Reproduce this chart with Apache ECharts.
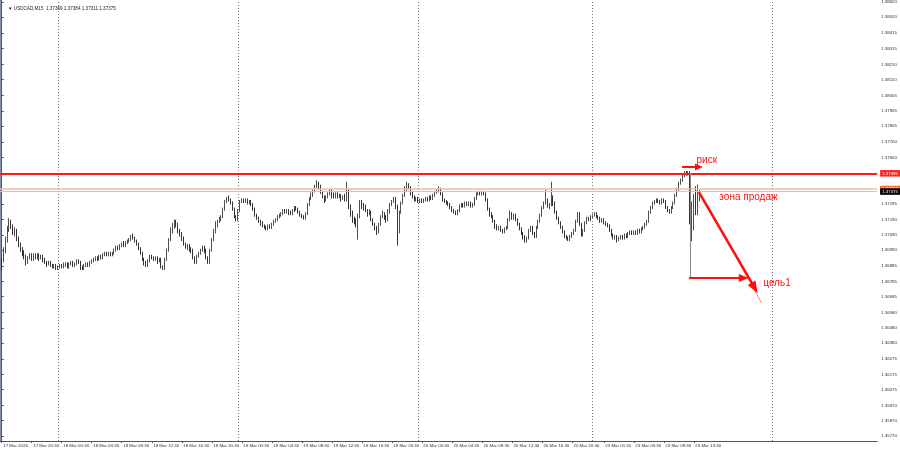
<!DOCTYPE html>
<html><head><meta charset="utf-8">
<script src="https://cdn.jsdelivr.net/npm/echarts@6/dist/echarts.min.js"></script>
<style>html,body{margin:0;padding:0;background:#fff}#c{width:900px;height:454px}</style>
</head><body><div id="c"></div>
<script>
const symbolName = 'USDCAD,M15';
const lastQuote = ['1.37369', '1.37384', '1.37311', '1.37375'];
// one row per M15 bar: [open, close, low, high]
const candles = [
[1.3688,1.3692,1.3686,1.3694],[1.3692,1.3699,1.3691,1.3701],[1.3699,1.3706,1.3697,1.3708],[1.3706,1.3713,1.3704,1.3715],[1.3713,1.3718,1.3711,1.3720],[1.3718,1.3715,1.3713,1.3719],[1.3715,1.3711,1.3709,1.3716],[1.3711,1.3712,1.3708,1.3714],[1.3712,1.3706,1.3705,1.3713],[1.3706,1.3703,1.3701,1.3708],
[1.3703,1.3700,1.3698,1.3704],[1.3700,1.3697,1.3695,1.3701],[1.3697,1.3695,1.3693,1.3699],[1.3695,1.3691,1.3689,1.3696],[1.3691,1.3694,1.3690,1.3695],[1.3694,1.3696,1.3693,1.3697],[1.3696,1.3693,1.3692,1.3697],[1.3693,1.3695,1.3692,1.3697],[1.3695,1.3694,1.3693,1.3697],[1.3694,1.3696,1.3693,1.3697],
[1.3696,1.3694,1.3692,1.3697],[1.3694,1.3695,1.3693,1.3696],[1.3695,1.3693,1.3691,1.3696],[1.3693,1.3691,1.3690,1.3694],[1.3691,1.3690,1.3688,1.3692],[1.3690,1.3691,1.3689,1.3692],[1.3691,1.3689,1.3688,1.3692],[1.3689,1.3688,1.3687,1.3690],[1.3688,1.3689,1.3687,1.3690],[1.3689,1.3687,1.3686,1.3690],
[1.3687,1.3688,1.3686,1.3689],[1.3688,1.3689,1.3687,1.3690],[1.3689,1.3688,1.3687,1.3690],[1.3688,1.3689,1.3687,1.3691],[1.3689,1.3690,1.3688,1.3691],[1.3690,1.3688,1.3687,1.3691],[1.3688,1.3690,1.3687,1.3691],[1.3690,1.3691,1.3689,1.3692],[1.3691,1.3689,1.3688,1.3692],[1.3689,1.3690,1.3688,1.3691],
[1.3690,1.3692,1.3689,1.3693],[1.3692,1.3691,1.3690,1.3693],[1.3691,1.3688,1.3686,1.3692],[1.3688,1.3687,1.3686,1.3689],[1.3687,1.3689,1.3686,1.3690],[1.3689,1.3690,1.3688,1.3691],[1.3690,1.3689,1.3688,1.3691],[1.3689,1.3691,1.3688,1.3692],[1.3691,1.3692,1.3690,1.3693],[1.3692,1.3693,1.3691,1.3694],
[1.3693,1.3694,1.3692,1.3695],[1.3694,1.3693,1.3692,1.3695],[1.3693,1.3695,1.3692,1.3696],[1.3695,1.3694,1.3693,1.3696],[1.3694,1.3696,1.3693,1.3697],[1.3696,1.3697,1.3695,1.3698],[1.3697,1.3696,1.3695,1.3698],[1.3696,1.3697,1.3695,1.3698],[1.3697,1.3696,1.3695,1.3698],[1.3696,1.3697,1.3695,1.3698],
[1.3697,1.3699,1.3696,1.3700],[1.3699,1.3701,1.3698,1.3702],[1.3701,1.3700,1.3699,1.3702],[1.3700,1.3702,1.3699,1.3703],[1.3702,1.3703,1.3701,1.3704],[1.3703,1.3702,1.3701,1.3705],[1.3702,1.3704,1.3701,1.3705],[1.3704,1.3705,1.3703,1.3706],[1.3705,1.3706,1.3704,1.3707],[1.3706,1.3708,1.3705,1.3709],
[1.3708,1.3707,1.3706,1.3710],[1.3707,1.3705,1.3704,1.3708],[1.3705,1.3703,1.3702,1.3706],[1.3703,1.3700,1.3699,1.3704],[1.3700,1.3697,1.3696,1.3701],[1.3697,1.3693,1.3692,1.3698],[1.3693,1.3690,1.3689,1.3694],[1.3690,1.3689,1.3688,1.3692],[1.3689,1.3692,1.3688,1.3693],[1.3692,1.3695,1.3691,1.3696],
[1.3695,1.3694,1.3693,1.3696],[1.3694,1.3693,1.3692,1.3695],[1.3693,1.3694,1.3692,1.3695],[1.3694,1.3692,1.3690,1.3695],[1.3692,1.3693,1.3691,1.3694],[1.3693,1.3688,1.3687,1.3694],[1.3688,1.3687,1.3686,1.3689],[1.3687,1.3693,1.3686,1.3694],[1.3693,1.3699,1.3692,1.3700],[1.3699,1.3706,1.3698,1.3707],
[1.3706,1.3712,1.3705,1.3714],[1.3712,1.3715,1.3710,1.3717],[1.3715,1.3717,1.3713,1.3719],[1.3717,1.3716,1.3714,1.3719],[1.3716,1.3712,1.3710,1.3717],[1.3712,1.3710,1.3708,1.3713],[1.3710,1.3706,1.3705,1.3711],[1.3706,1.3703,1.3702,1.3708],[1.3703,1.3701,1.3700,1.3704],[1.3701,1.3702,1.3699,1.3703],
[1.3702,1.3700,1.3698,1.3703],[1.3700,1.3699,1.3697,1.3701],[1.3699,1.3694,1.3693,1.3700],[1.3694,1.3691,1.3690,1.3695],[1.3691,1.3695,1.3690,1.3696],[1.3695,1.3697,1.3694,1.3698],[1.3697,1.3699,1.3696,1.3700],[1.3699,1.3701,1.3698,1.3702],[1.3701,1.3699,1.3697,1.3702],[1.3699,1.3694,1.3693,1.3700],
[1.3694,1.3691,1.3690,1.3695],[1.3691,1.3699,1.3690,1.3700],[1.3699,1.3706,1.3698,1.3707],[1.3706,1.3711,1.3705,1.3713],[1.3711,1.3716,1.3710,1.3718],[1.3716,1.3718,1.3714,1.3719],[1.3718,1.3719,1.3717,1.3721],[1.3719,1.3721,1.3718,1.3722],[1.3721,1.3726,1.3720,1.3727],[1.3726,1.3731,1.3725,1.3732],
[1.3731,1.3733,1.3730,1.3734],[1.3733,1.3732,1.3731,1.3735],[1.3732,1.3730,1.3729,1.3733],[1.3730,1.3726,1.3725,1.3731],[1.3726,1.3721,1.3720,1.3727],[1.3721,1.3719,1.3718,1.3722],[1.3719,1.3725,1.3718,1.3726],[1.3725,1.3731,1.3724,1.3732],[1.3731,1.3732,1.3730,1.3733],[1.3732,1.3731,1.3730,1.3733],
[1.3731,1.3732,1.3730,1.3733],[1.3732,1.3730,1.3729,1.3733],[1.3730,1.3731,1.3729,1.3732],[1.3731,1.3729,1.3728,1.3732],[1.3729,1.3726,1.3725,1.3730],[1.3726,1.3722,1.3721,1.3727],[1.3722,1.3720,1.3719,1.3723],[1.3720,1.3718,1.3717,1.3721],[1.3718,1.3717,1.3715,1.3719],[1.3717,1.3715,1.3714,1.3718],
[1.3715,1.3714,1.3713,1.3716],[1.3714,1.3713,1.3712,1.3715],[1.3713,1.3715,1.3712,1.3716],[1.3715,1.3714,1.3713,1.3716],[1.3714,1.3716,1.3713,1.3717],[1.3716,1.3718,1.3715,1.3719],[1.3718,1.3719,1.3717,1.3720],[1.3719,1.3721,1.3718,1.3722],[1.3721,1.3722,1.3720,1.3723],[1.3722,1.3723,1.3721,1.3724],
[1.3723,1.3725,1.3722,1.3726],[1.3725,1.3724,1.3723,1.3726],[1.3724,1.3725,1.3723,1.3726],[1.3725,1.3724,1.3722,1.3726],[1.3724,1.3723,1.3722,1.3725],[1.3723,1.3725,1.3722,1.3726],[1.3725,1.3727,1.3724,1.3728],[1.3727,1.3726,1.3725,1.3728],[1.3726,1.3724,1.3723,1.3727],[1.3724,1.3722,1.3721,1.3725],
[1.3722,1.3721,1.3720,1.3723],[1.3721,1.3720,1.3719,1.3722],[1.3720,1.3723,1.3719,1.3724],[1.3723,1.3729,1.3722,1.3730],[1.3729,1.3733,1.3728,1.3734],[1.3733,1.3735,1.3732,1.3737],[1.3735,1.3738,1.3734,1.3739],[1.3738,1.3741,1.3737,1.3742],[1.3741,1.3743,1.3740,1.3745],[1.3743,1.3741,1.3739,1.3744],
[1.3741,1.3737,1.3736,1.3742],[1.3737,1.3734,1.3733,1.3738],[1.3734,1.3732,1.3730,1.3735],[1.3732,1.3734,1.3731,1.3735],[1.3734,1.3736,1.3733,1.3737],[1.3736,1.3738,1.3735,1.3739],[1.3738,1.3735,1.3733,1.3739],[1.3735,1.3734,1.3733,1.3737],[1.3734,1.3736,1.3733,1.3737],[1.3736,1.3734,1.3733,1.3737],
[1.3734,1.3735,1.3733,1.3736],[1.3735,1.3733,1.3731,1.3736],[1.3733,1.3734,1.3732,1.3735],[1.3734,1.3732,1.3731,1.3736],[1.3732,1.3738,1.3731,1.3744],[1.3738,1.3728,1.3726,1.3739],[1.3728,1.3723,1.3721,1.3729],[1.3723,1.3719,1.3717,1.3725],[1.3719,1.3718,1.3716,1.3721],[1.3718,1.3716,1.3714,1.3720],
[1.3716,1.3722,1.3706,1.3723],[1.3722,1.3731,1.3720,1.3732],[1.3731,1.3728,1.3726,1.3732],[1.3728,1.3727,1.3725,1.3730],[1.3727,1.3725,1.3724,1.3729],[1.3725,1.3723,1.3721,1.3726],[1.3723,1.3724,1.3722,1.3726],[1.3724,1.3719,1.3718,1.3725],[1.3719,1.3716,1.3715,1.3720],[1.3716,1.3714,1.3712,1.3717],
[1.3714,1.3711,1.3709,1.3715],[1.3711,1.3716,1.3710,1.3717],[1.3716,1.3721,1.3715,1.3722],[1.3721,1.3723,1.3720,1.3725],[1.3723,1.3720,1.3719,1.3724],[1.3720,1.3719,1.3717,1.3722],[1.3719,1.3724,1.3718,1.3726],[1.3724,1.3729,1.3723,1.3730],[1.3729,1.3731,1.3728,1.3732],[1.3731,1.3733,1.3730,1.3734],
[1.3733,1.3728,1.3726,1.3734],[1.3728,1.3711,1.3702,1.3729],[1.3711,1.3724,1.3710,1.3725],[1.3724,1.3730,1.3723,1.3731],[1.3730,1.3735,1.3729,1.3736],[1.3735,1.3740,1.3734,1.3741],[1.3740,1.3742,1.3738,1.3744],[1.3742,1.3740,1.3739,1.3743],[1.3740,1.3737,1.3735,1.3741],[1.3737,1.3734,1.3733,1.3738],
[1.3734,1.3732,1.3731,1.3735],[1.3732,1.3733,1.3731,1.3734],[1.3733,1.3731,1.3730,1.3734],[1.3731,1.3732,1.3730,1.3733],[1.3732,1.3731,1.3730,1.3733],[1.3731,1.3732,1.3730,1.3733],[1.3732,1.3733,1.3731,1.3734],[1.3733,1.3732,1.3731,1.3734],[1.3732,1.3734,1.3731,1.3735],[1.3734,1.3733,1.3732,1.3735],
[1.3733,1.3735,1.3732,1.3736],[1.3735,1.3737,1.3734,1.3738],[1.3737,1.3738,1.3736,1.3739],[1.3738,1.3739,1.3737,1.3741],[1.3739,1.3736,1.3735,1.3740],[1.3736,1.3732,1.3731,1.3737],[1.3732,1.3731,1.3730,1.3733],[1.3731,1.3730,1.3729,1.3732],[1.3730,1.3729,1.3728,1.3731],[1.3729,1.3727,1.3726,1.3730],
[1.3727,1.3725,1.3724,1.3728],[1.3725,1.3724,1.3723,1.3726],[1.3724,1.3723,1.3722,1.3725],[1.3723,1.3725,1.3722,1.3726],[1.3725,1.3728,1.3724,1.3729],[1.3728,1.3729,1.3727,1.3730],[1.3729,1.3728,1.3727,1.3730],[1.3728,1.3730,1.3727,1.3731],[1.3730,1.3729,1.3728,1.3731],[1.3729,1.3730,1.3728,1.3731],
[1.3730,1.3728,1.3727,1.3731],[1.3728,1.3729,1.3727,1.3730],[1.3729,1.3733,1.3728,1.3734],[1.3733,1.3736,1.3732,1.3737],[1.3736,1.3737,1.3735,1.3738],[1.3737,1.3736,1.3735,1.3738],[1.3736,1.3737,1.3735,1.3738],[1.3737,1.3736,1.3735,1.3738],[1.3736,1.3732,1.3731,1.3737],[1.3732,1.3726,1.3725,1.3733],
[1.3726,1.3723,1.3721,1.3727],[1.3723,1.3721,1.3720,1.3724],[1.3721,1.3718,1.3717,1.3722],[1.3718,1.3715,1.3713,1.3719],[1.3715,1.3713,1.3712,1.3716],[1.3713,1.3714,1.3712,1.3715],[1.3714,1.3712,1.3711,1.3715],[1.3712,1.3711,1.3710,1.3713],[1.3711,1.3713,1.3710,1.3714],[1.3713,1.3714,1.3712,1.3715],
[1.3714,1.3719,1.3713,1.3720],[1.3719,1.3723,1.3718,1.3725],[1.3723,1.3720,1.3719,1.3724],[1.3720,1.3722,1.3719,1.3723],[1.3722,1.3719,1.3718,1.3723],[1.3719,1.3716,1.3715,1.3720],[1.3716,1.3713,1.3712,1.3717],[1.3713,1.3710,1.3709,1.3714],[1.3710,1.3707,1.3706,1.3711],[1.3707,1.3705,1.3704,1.3709],
[1.3705,1.3707,1.3704,1.3708],[1.3707,1.3712,1.3706,1.3713],[1.3712,1.3714,1.3711,1.3715],[1.3714,1.3710,1.3709,1.3715],[1.3710,1.3708,1.3707,1.3711],[1.3708,1.3714,1.3707,1.3715],[1.3714,1.3718,1.3713,1.3719],[1.3718,1.3722,1.3717,1.3723],[1.3722,1.3727,1.3721,1.3728],[1.3727,1.3730,1.3726,1.3731],
[1.3730,1.3732,1.3729,1.3739],[1.3732,1.3728,1.3727,1.3733],[1.3728,1.3729,1.3726,1.3730],[1.3729,1.3733,1.3728,1.3744],[1.3733,1.3730,1.3728,1.3735],[1.3730,1.3724,1.3723,1.3731],[1.3724,1.3720,1.3719,1.3725],[1.3720,1.3717,1.3716,1.3721],[1.3717,1.3714,1.3713,1.3718],[1.3714,1.3711,1.3710,1.3715],
[1.3711,1.3708,1.3707,1.3712],[1.3708,1.3707,1.3706,1.3709],[1.3707,1.3706,1.3705,1.3708],[1.3706,1.3708,1.3705,1.3709],[1.3708,1.3710,1.3707,1.3711],[1.3710,1.3712,1.3709,1.3713],[1.3712,1.3718,1.3711,1.3719],[1.3718,1.3723,1.3717,1.3724],[1.3723,1.3716,1.3715,1.3724],[1.3716,1.3709,1.3708,1.3717],
[1.3709,1.3712,1.3708,1.3713],[1.3712,1.3717,1.3711,1.3718],[1.3717,1.3720,1.3716,1.3721],[1.3720,1.3719,1.3718,1.3721],[1.3719,1.3721,1.3718,1.3722],[1.3721,1.3722,1.3720,1.3723],[1.3722,1.3723,1.3721,1.3724],[1.3723,1.3721,1.3720,1.3724],[1.3721,1.3720,1.3719,1.3722],[1.3720,1.3718,1.3717,1.3721],
[1.3718,1.3719,1.3717,1.3720],[1.3719,1.3717,1.3716,1.3720],[1.3717,1.3716,1.3715,1.3718],[1.3716,1.3715,1.3714,1.3717],[1.3715,1.3712,1.3711,1.3716],[1.3712,1.3709,1.3708,1.3713],[1.3709,1.3707,1.3706,1.3710],[1.3707,1.3708,1.3706,1.3709],[1.3708,1.3706,1.3704,1.3709],[1.3706,1.3707,1.3705,1.3708],
[1.3707,1.3708,1.3706,1.3709],[1.3708,1.3707,1.3706,1.3709],[1.3707,1.3709,1.3706,1.3710],[1.3709,1.3708,1.3707,1.3710],[1.3708,1.3710,1.3707,1.3711],[1.3710,1.3711,1.3709,1.3712],[1.3711,1.3710,1.3709,1.3712],[1.3710,1.3711,1.3709,1.3712],[1.3711,1.3710,1.3709,1.3712],[1.3710,1.3712,1.3709,1.3713],
[1.3712,1.3711,1.3710,1.3713],[1.3711,1.3713,1.3710,1.3714],[1.3713,1.3714,1.3712,1.3715],[1.3714,1.3716,1.3713,1.3717],[1.3716,1.3718,1.3715,1.3719],[1.3718,1.3724,1.3717,1.3725],[1.3724,1.3727,1.3723,1.3728],[1.3727,1.3730,1.3726,1.3731],[1.3730,1.3731,1.3729,1.3732],[1.3731,1.3732,1.3730,1.3733],
[1.3732,1.3731,1.3730,1.3733],[1.3731,1.3730,1.3729,1.3732],[1.3730,1.3732,1.3729,1.3733],[1.3732,1.3731,1.3730,1.3733],[1.3731,1.3727,1.3726,1.3732],[1.3727,1.3725,1.3724,1.3728],[1.3725,1.3724,1.3723,1.3726],[1.3724,1.3727,1.3723,1.3728],[1.3727,1.3730,1.3726,1.3731],[1.3730,1.3735,1.3729,1.3736],
[1.3735,1.3739,1.3734,1.3740],[1.3739,1.3743,1.3738,1.3744],[1.3743,1.3745,1.3742,1.3746],[1.3745,1.3748,1.3744,1.3749],[1.3748,1.3750,1.3747,1.3751],[1.3750,1.3749,1.3748,1.3751],[1.3749,1.3750,1.3748,1.3751],[1.3750,1.3719,1.3716,1.3751],[1.3719,1.3727,1.3705,1.3731],[1.3727,1.3733,1.3712,1.3736],
[1.3733,1.3725,1.3722,1.3741],[1.3725,1.37369,1.3722,1.3742],[1.37369,1.37375,1.37311,1.37384]
];
// time-axis ticks: bar index and text
const xTickIdx = [0,16,32,48,64,80,96,112,128,144,160,176,192,208,224,240,256,272,288,304,321,337,353,369];
const xTickText = ['17 Mar 2026','17 Mar 20:30','18 Mar 00:30','18 Mar 04:30','18 Mar 08:30','18 Mar 12:30','18 Mar 16:30','18 Mar 20:30','19 Mar 00:30','19 Mar 04:30','19 Mar 08:30','19 Mar 12:30','19 Mar 16:30','19 Mar 20:30','20 Mar 00:30','20 Mar 04:30','20 Mar 08:30','20 Mar 12:30','20 Mar 16:30','20 Mar 20:30','23 Mar 01:30','23 Mar 05:30','23 Mar 09:30','23 Mar 13:30'];
// price-axis ticks
const yTicks = [1.35770,1.35870,1.35970,1.36075,1.36175,1.36275,1.36380,1.36480,1.36580,1.36685,1.36785,1.36885,1.36990,1.37090,1.37190,1.37295,1.37600,1.37700,1.37805,1.37905,1.38005,1.38110,1.38210,1.38315,1.38415,1.38520,1.38620];
// day separators (bar index of 00:00)
const daySeparators = [30,126,222,315,411];
// horizontal levels: risk line, sell-zone line, bid
const levelPrices = [1.37495, 1.37392, 1.37375];
// annotation drawings: [fromIndex, fromPrice, toIndex, toPrice]
const arrowRisk = [362.7, 1.37536, 371.7, 1.37536];
const arrowDown = [371.7, 1.37372, 401.4, 1.36742];
const arrowDownTail = [400.2, 1.36752, 405.1, 1.36643];
const arrowTarget = [366.4, 1.36807, 395.6, 1.36807];
const measureLine = [366.9, 1.37497, 366.9, 1.36807];
// annotation texts: [text, barIndex, price]
const notes = [['риск', 368.0, 1.37582], ['зона продаж', 380.2, 1.37339], ['цель1', 403.6, 1.36775]];

const FONT = 'Liberation Sans';
function seg(a, color, width, arrowSize) {
  return [
    {coord: [a[0], a[1]], symbol: 'none', lineStyle: {color: color, width: width, type: 'solid'}},
    {coord: [a[2], a[3]], symbol: arrowSize ? 'triangle' : 'none', symbolSize: arrowSize || 0, itemStyle: {color: color}}
  ];
}
// helper series that only carries a markLine in one colour
function lineHolder(color, width, type, items, label) {
  return {
    type: 'line', data: [[0, levelPrices[2]]], symbol: 'none', silent: true,
    color: color, lineStyle: {opacity: 0}, z: 3,
    markLine: {
      silent: true, symbol: ['none', 'none'], animation: false, precision: 6,
      lineStyle: {color: color, width: width, type: type},
      label: label || {show: false},
      data: items
    }
  };
}
function levelLabel(v, bg) {
  return {show: true, position: 'end', distance: 3, formatter: v.toFixed(5), backgroundColor: bg, color: '#fff',
    fontSize: 4.4, fontFamily: FONT, padding: [1, 3, 0.5, 2], lineHeight: 5};
}

const chart = echarts.init(document.getElementById('c'), null, {renderer: 'canvas'});
chart.setOption({
  animation: false,
  backgroundColor: '#ffffff',
  title: {text: '▼ ' + symbolName + '  ' + lastQuote.join(' '), left: 3, top: 1,
    textStyle: {fontSize: 4.6, fontWeight: 'normal', color: '#222', fontFamily: FONT}},
  graphic: [{type: 'rect', left: 0, top: 0, shape: {width: 1, height: 441}, style: {fill: '#8492b0'}, silent: true}],
  grid: {left: 0, right: 19, top: 0, bottom: 13},
  xAxis: {
    type: 'value', min: -0.9, max: 466.7, splitLine: {show: false},
    axisLine: {show: true, lineStyle: {color: '#555', width: 1}},
    axisTick: {show: true, customValues: xTickIdx, length: 2, lineStyle: {color: '#555'}},
    axisLabel: {customValues: xTickIdx, formatter: v => { const k = xTickIdx.indexOf(Math.round(v)); return k >= 0 ? xTickText[k] : ''; },
      align: 'left', fontSize: 4.4, color: '#333', margin: 3, padding: [0, 0, 0, 1.5], fontFamily: FONT}
  },
  yAxis: {
    type: 'value', position: 'right', min: 1.35737, max: 1.38633, splitLine: {show: false},
    axisLine: {show: true, lineStyle: {color: '#555', width: 1}},
    axisTick: {show: true, customValues: yTicks, length: 2, lineStyle: {color: '#555'}},
    axisLabel: {customValues: yTicks, formatter: v => v.toFixed(5), fontSize: 4.4, color: '#333', margin: 4, fontFamily: FONT}
  },
  series: [
    lineHolder('#777777', 1, [1, 2], daySeparators.map(d => ({xAxis: d}))),
    lineHolder('#ffb49c', 1.6, 'solid', [{yAxis: levelPrices[1]}], levelLabel(levelPrices[1], '#ff6a33')),
    lineHolder('#c8c8c8', 1, 'solid', [{yAxis: levelPrices[2]}], levelLabel(levelPrices[2], '#000000')),
    lineHolder('#ff1a1a', 2, 'solid', [{yAxis: levelPrices[0]}], levelLabel(levelPrices[0], '#ff2020')),
    {
      type: 'candlestick', z: 4,
      data: candles.map((c, i) => [i, c[0], c[1], c[2], c[3]]),
      barWidth: 1.3,
      itemStyle: {color: '#8c8c8c', color0: '#000000', borderColor: '#222', borderColor0: '#000', borderWidth: 0.8}
    },
    lineHolder('#8a8a8a', 1, 'solid', [seg(measureLine, '#8a8a8a', 1)]),
    lineHolder('#ff8a50', 1, 'solid', [seg(arrowDownTail, '#ff8a50', 1)]),
    Object.assign(lineHolder('#ff1010', 2, 'solid', [
      seg(arrowRisk, '#ff1010', 2, [7, 8]),
      seg(arrowDown, '#ff1010', 2.6, [9, 12]),
      seg(arrowTarget, '#ff1010', 2.2, [8, 10])
    ]), {
      z: 6,
      markPoint: {
        silent: true, symbol: 'circle', symbolSize: 1, itemStyle: {color: 'rgba(0,0,0,0)'},
        label: {show: true, position: 'right', distance: 4, color: '#ff1010', fontSize: 10, fontFamily: 'Liberation Sans', formatter: p => p.name},
        data: notes.map(n => ({name: n[0], coord: [n[1], n[2]]}))
      }
    })
  ]
});
</script></body></html>
